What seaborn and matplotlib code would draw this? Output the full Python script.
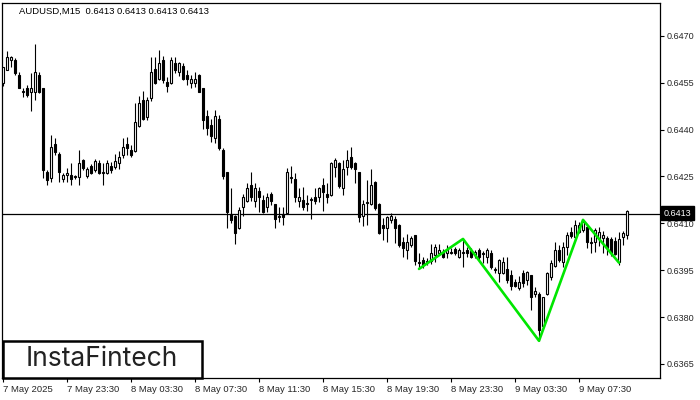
import matplotlib
matplotlib.use("Agg")
import matplotlib.pyplot as plt
from matplotlib.patches import Rectangle
import seaborn as sns
import numpy as np

# Данные свечей AUDUSD M15
opens = [
    0.64549, 0.64591, 0.64623, 0.64623, 0.64575, 0.64521, 0.64533, 0.64521, 0.64521, 0.64575,
    0.64533, 0.64265, 0.64245, 0.64354, 0.64322, 0.64242, 0.64255, 0.64255, 0.64252, 0.64249,
    0.64303, 0.64252, 0.64284, 0.64271, 0.64293, 0.64261, 0.64261, 0.64284, 0.64281, 0.64293,
    0.64319, 0.64354, 0.64335, 0.64332, 0.64412, 0.64495, 0.64441, 0.64501, 0.64594, 0.64562,
    0.64623, 0.64553, 0.64549, 0.64614, 0.64585, 0.64604, 0.64575, 0.64549, 0.64549, 0.64575,
    0.64533, 0.64444, 0.64415, 0.64373, 0.64434, 0.64335, 0.64265, 0.64130, 0.64124, 0.64086,
    0.64153, 0.64172, 0.64223, 0.64172, 0.64204, 0.64175, 0.64153, 0.64194, 0.64162, 0.64121,
    0.64130, 0.64134, 0.64245, 0.64242, 0.64172, 0.64175, 0.64162, 0.64175, 0.64185, 0.64185,
    0.64223, 0.64194, 0.64191, 0.64281, 0.64293, 0.64214, 0.64281, 0.64313, 0.64293, 0.64265,
    0.64124, 0.64166, 0.64162, 0.64233, 0.64162, 0.64095, 0.64086, 0.64111, 0.64114, 0.64095,
    0.64041, 0.64015, 0.64031, 0.64063, 0.63974, 0.63983, 0.63977, 0.63980, 0.63999, 0.64005,
    0.64005, 0.64005, 0.64005, 0.64018, 0.63993, 0.64005, 0.64015, 0.64012, 0.63999, 0.64015,
    0.64005, 0.63993, 0.64005, 0.63951, 0.63941, 0.63941, 0.63954, 0.63935, 0.63913, 0.63893,
    0.63941, 0.63919, 0.63935, 0.63874, 0.63874, 0.63772, 0.63874, 0.63929, 0.63964, 0.64015,
    0.63977, 0.64025, 0.64073, 0.64057, 0.64073, 0.64079, 0.64089, 0.64037, 0.64041, 0.64054,
    0.64054, 0.64054, 0.64050, 0.64044, 0.63977, 0.64057, 0.64063,
]
highs = [
    0.64601, 0.64652, 0.64636, 0.64630, 0.64585, 0.64533, 0.64543, 0.64582, 0.64674, 0.64585,
    0.64533, 0.64271, 0.64383, 0.64374, 0.64329, 0.64261, 0.64277, 0.64293, 0.64255, 0.64335,
    0.64306, 0.64281, 0.64290, 0.64306, 0.64303, 0.64293, 0.64303, 0.64297, 0.64322, 0.64332,
    0.64374, 0.64377, 0.64351, 0.64486, 0.64508, 0.64524, 0.64505, 0.64633, 0.64633, 0.64655,
    0.64636, 0.64569, 0.64633, 0.64633, 0.64617, 0.64614, 0.64591, 0.64575, 0.64585, 0.64578,
    0.64533, 0.64463, 0.64434, 0.64463, 0.64447, 0.64341, 0.64265, 0.64214, 0.64127, 0.64153,
    0.64194, 0.64230, 0.64265, 0.64230, 0.64217, 0.64191, 0.64198, 0.64201, 0.64162, 0.64153,
    0.64153, 0.64277, 0.64284, 0.64261, 0.64214, 0.64217, 0.64191, 0.64185, 0.64214, 0.64217,
    0.64245, 0.64230, 0.64297, 0.64310, 0.64297, 0.64303, 0.64335, 0.64345, 0.64297, 0.64265,
    0.64175, 0.64239, 0.64274, 0.64236, 0.64165, 0.64118, 0.64124, 0.64134, 0.64124, 0.64098,
    0.64057, 0.64066, 0.64060, 0.64063, 0.64006, 0.63993, 0.63990, 0.64034, 0.64034, 0.64034,
    0.64018, 0.64031, 0.64021, 0.64025, 0.64021, 0.64050, 0.64025, 0.64021, 0.64015, 0.64021,
    0.64012, 0.64021, 0.64015, 0.63961, 0.63986, 0.63993, 0.63993, 0.63951, 0.63922, 0.63932,
    0.63951, 0.63948, 0.63935, 0.63897, 0.63881, 0.63865, 0.63945, 0.63983, 0.64041, 0.64031,
    0.64041, 0.64073, 0.64089, 0.64111, 0.64105, 0.64111, 0.64095, 0.64057, 0.64085, 0.64089,
    0.64076, 0.64060, 0.64057, 0.64057, 0.64073, 0.64076, 0.64143,
]
lows = [
    0.64540, 0.64591, 0.64601, 0.64575, 0.64533, 0.64505, 0.64505, 0.64460, 0.64495, 0.64517,
    0.64245, 0.64223, 0.64233, 0.64319, 0.64233, 0.64233, 0.64233, 0.64223, 0.64242, 0.64223,
    0.64271, 0.64245, 0.64258, 0.64265, 0.64258, 0.64223, 0.64258, 0.64261, 0.64274, 0.64274,
    0.64310, 0.64319, 0.64313, 0.64329, 0.64409, 0.64431, 0.64431, 0.64492, 0.64546, 0.64559,
    0.64549, 0.64521, 0.64546, 0.64581, 0.64572, 0.64559, 0.64543, 0.64533, 0.64537, 0.64521,
    0.64402, 0.64383, 0.64361, 0.64357, 0.64335, 0.64242, 0.64086, 0.64101, 0.64034, 0.64082,
    0.64124, 0.64169, 0.64172, 0.64153, 0.64137, 0.64134, 0.64137, 0.64159, 0.64086, 0.64105,
    0.64095, 0.64134, 0.64230, 0.64169, 0.64153, 0.64143, 0.64140, 0.64114, 0.64162, 0.64169,
    0.64140, 0.64166, 0.64188, 0.64249, 0.64214, 0.64191, 0.64255, 0.64274, 0.64230, 0.64105,
    0.64092, 0.64095, 0.64159, 0.64143, 0.64066, 0.64047, 0.64041, 0.64101, 0.64038, 0.64025,
    0.63993, 0.63986, 0.64025, 0.63967, 0.63958, 0.63958, 0.63967, 0.63970, 0.63977, 0.63999,
    0.63989, 0.63989, 0.64002, 0.63999, 0.63989, 0.63961, 0.63993, 0.63989, 0.63989, 0.63980,
    0.63973, 0.63973, 0.63954, 0.63941, 0.63913, 0.63938, 0.63909, 0.63887, 0.63897, 0.63887,
    0.63897, 0.63903, 0.63823, 0.63865, 0.63724, 0.63765, 0.63871, 0.63919, 0.63961, 0.63977,
    0.63961, 0.63999, 0.64054, 0.64050, 0.64070, 0.64073, 0.64021, 0.64005, 0.64009, 0.64028,
    0.64005, 0.63999, 0.63996, 0.63999, 0.63967, 0.64031, 0.64050,
]
closes = [
    0.64601, 0.64633, 0.64633, 0.64581, 0.64533, 0.64524, 0.64511, 0.64533, 0.64585, 0.64521,
    0.64271, 0.64239, 0.64345, 0.64329, 0.64265, 0.64255, 0.64261, 0.64242, 0.64249, 0.64293,
    0.64277, 0.64274, 0.64261, 0.64300, 0.64261, 0.64265, 0.64293, 0.64271, 0.64300, 0.64313,
    0.64345, 0.64341, 0.64319, 0.64425, 0.64486, 0.64434, 0.64495, 0.64585, 0.64549, 0.64614,
    0.64559, 0.64540, 0.64623, 0.64591, 0.64614, 0.64562, 0.64562, 0.64562, 0.64562, 0.64521,
    0.64431, 0.64405, 0.64380, 0.64444, 0.64341, 0.64252, 0.64137, 0.64111, 0.64070, 0.64143,
    0.64185, 0.64214, 0.64185, 0.64214, 0.64185, 0.64137, 0.64185, 0.64172, 0.64114, 0.64124,
    0.64121, 0.64265, 0.64249, 0.64185, 0.64185, 0.64153, 0.64166, 0.64178, 0.64172, 0.64214,
    0.64201, 0.64185, 0.64293, 0.64303, 0.64220, 0.64274, 0.64303, 0.64281, 0.64274, 0.64121,
    0.64162, 0.64169, 0.64223, 0.64150, 0.64070, 0.64086, 0.64121, 0.64124, 0.64086, 0.64031,
    0.64022, 0.64041, 0.64054, 0.63980, 0.63977, 0.63967, 0.63980, 0.64006, 0.64025, 0.64015,
    0.63993, 0.64015, 0.64009, 0.64005, 0.64015, 0.64009, 0.64005, 0.63993, 0.64009, 0.63993,
    0.64002, 0.64015, 0.63961, 0.63954, 0.63983, 0.63977, 0.63919, 0.63900, 0.63900, 0.63913,
    0.63909, 0.63945, 0.63865, 0.63884, 0.63759, 0.63865, 0.63941, 0.63973, 0.64015, 0.63983,
    0.64025, 0.64063, 0.64060, 0.64095, 0.64095, 0.64105, 0.64041, 0.64041, 0.64079, 0.64073,
    0.64063, 0.64021, 0.64005, 0.64002, 0.64050, 0.64070, 0.64138,
]

# фигура "голова и плечи" (перевёрнутая) - номера свечей и цены вершин
pattern_idx = [104, 115, 134, 145, 154]
pattern_price = [0.63954, 0.64050, 0.63724, 0.64111, 0.63974]

current_price = 0.6413
y_ticks = [0.6365, 0.6380, 0.6395, 0.6410, 0.6425, 0.6440, 0.6455, 0.6470]
x_tick_idx = [0, 16, 32, 48, 64, 80, 96, 112, 128, 144]
x_tick_labels = ['7 May 2025', '7 May 23:30', '8 May 03:30', '8 May 07:30', '8 May 11:30',
                 '8 May 15:30', '8 May 19:30', '8 May 23:30', '9 May 03:30', '9 May 07:30']

sns.set_style('white')
plt.rcParams['font.family'] = ['Liberation Sans', 'DejaVu Sans']

fig = plt.figure(figsize=(7, 4), dpi=100)
ax = fig.add_axes([2 / 700, 22 / 400, 658 / 700, 375 / 400])

o = np.array(opens)
h = np.array(highs)
l = np.array(lows)
c = np.array(closes)
idx = np.arange(len(o))

# тени
ax.vlines(idx, l, h, color='black', lw=0.8, zorder=2)
# тела свечей
up = c >= o
body_colors = np.where(up, 'white', 'black')
ax.bar(idx, np.abs(c - o), bottom=np.minimum(o, c), width=0.5,
       color=body_colors, edgecolor='black', linewidth=0.8, zorder=3)

# линия текущей цены
ax.axhline(current_price, color='black', lw=0.9, zorder=1)

# зелёная линия паттерна
sns.lineplot(x=pattern_idx, y=pattern_price, color='#00e600', lw=1.9, ax=ax, zorder=4)

ax.set_xlim(-0.25, 164.25)
ax.set_ylim(0.63605, 0.64805)

ax.yaxis.tick_right()
ax.set_yticks(y_ticks)
ax.set_yticklabels([f'{v:.4f}' for v in y_ticks], fontsize=6.5)
ax.set_xticks(x_tick_idx)
ax.set_xticklabels(x_tick_labels, fontsize=6.8)
for lbl in ax.get_xticklabels():
    lbl.set_horizontalalignment('left')
ax.tick_params(axis='both', direction='out', length=3, width=0.8, color='black', pad=2)
ax.tick_params(axis='y', right=True, left=False)
ax.tick_params(axis='x', bottom=True)

for sp in ax.spines.values():
    sp.set_color('black')
    sp.set_linewidth(0.9)

# заголовок
fig.text(19 / 700, 1 - 11 / 400, 'AUDUSD,M15  0.6413 0.6413 0.6413 0.6413',
         fontsize=6.8, color='black', va='center', ha='left')

# метка текущей цены
fig.text(664 / 700, 1 - 213 / 400, '0.6413', fontsize=6.5, color='white',
         va='center', ha='left',
         bbox=dict(facecolor='black', edgecolor='black', pad=1.8), zorder=10)

# логотип
fig.patches.append(Rectangle((3 / 700, 22 / 400), 199 / 700, 37 / 400,
                             transform=fig.transFigure, facecolor='white',
                             edgecolor='black', lw=1.8, zorder=5))
fig.text(102 / 700, 1 - 359 / 400, 'InstaFintech', fontsize=19, color='#222222',
         family='Inter', weight='normal', va='center', ha='center', zorder=6)

fig.savefig('out.png', dpi=100)
